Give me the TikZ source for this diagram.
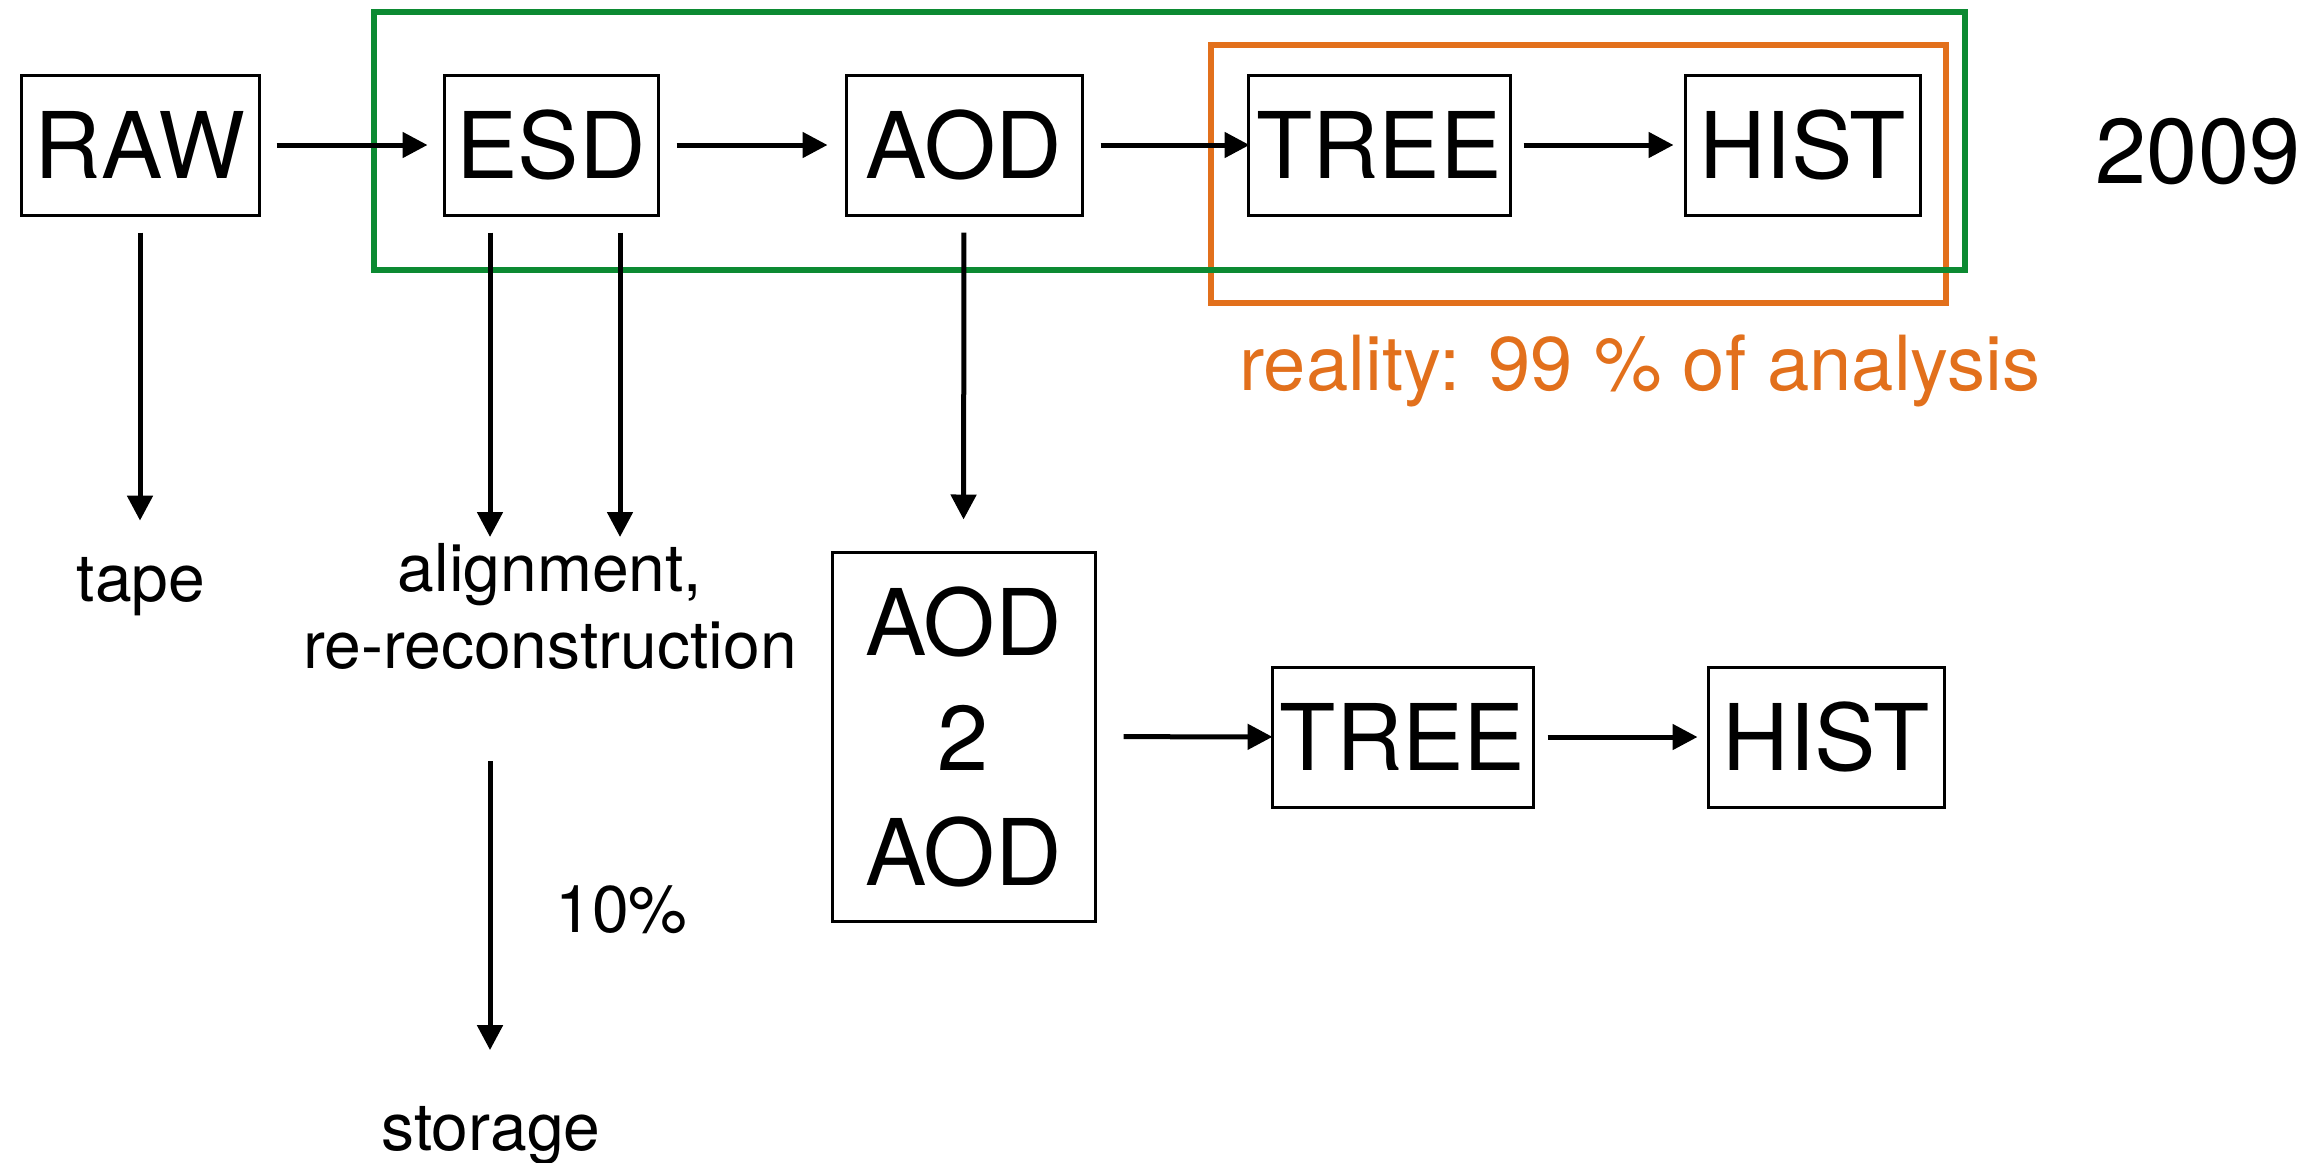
\documentclass[tikz,border=0pt]{standalone}
\usepackage{fontspec}
\setmainfont{TeX Gyre Heros}
\usetikzlibrary{arrows.meta}
\definecolor{grn}{RGB}{12,138,50}
\definecolor{org}{RGB}{226,112,28}
\begin{document}
\begin{tikzpicture}[x=0.5pt,y=-0.5pt,
  box/.style={draw,line width=1.5pt,inner sep=0pt,minimum height=70pt,font=\fontsize{46}{55}\selectfont},
  lbl/.style={inner sep=0pt,text height=24.75pt,text depth=8.25pt,font=\fontsize{33}{38.5}\selectfont},
  arr/.style={line width=2.5pt,-{Triangle[length=12.5pt,width=12.5pt]}},
  frame/.style={line width=2.8pt}]
\useasboundingbox (0,0) rectangle (2310,1162);
% frames
\draw[org,frame] (1211,45) rectangle (1946,303);
\draw[grn,frame] (374,12) rectangle (1965,270);
% top row
\node[box,minimum width=119pt] (raw) at (140,145) {RAW};
\node[box,minimum width=107pt] (esd) at (551,145) {ESD};
\node[box,minimum width=118pt] (aod) at (964,145) {AOD};
\node[box,minimum width=131pt] (tree) at (1379,145) {TREE};
\node[box,minimum width=117.5pt] (hist) at (1802.5,145) {HIST};
\node[font=\fontsize{46}{55}\selectfont,anchor=base,inner sep=0pt] (year) at (2198,183) {2009};
\node[org,font=\fontsize{38}{45}\selectfont,anchor=base,inner sep=0pt] (real) at (1640,390) {reality: 99 \% of analysis};
% labels
\node[lbl,anchor=base] (tape) at (141,601) {tape};
\node[inner sep=0pt,anchor=north,align=center,font=\fontsize{33}{38.5}\selectfont] (align) at (550,542.5) {alignment,\\re-reconstruction};
\node[lbl,anchor=base] (storage) at (491,1150) {storage};
\node[lbl,anchor=base west] (pct) at (555,932) {10\%};
% bottom row
\node[box,minimum width=131.5pt,minimum height=184.5pt,align=center,font=\fontsize{46}{57.5}\selectfont] (aod2) at (963.5,736.5) {AOD\\2\\AOD};
\node[box,minimum width=130.5pt] (tree2) at (1402.5,737) {TREE};
\node[box,minimum width=118pt] (hist2) at (1826,737) {HIST};
% horizontal arrows
\draw[arr,shorten <=8pt,shorten >=7.5pt] (raw) -- (esd);
\draw[arr,shorten <=8.5pt,shorten >=8.5pt] (esd) -- (aod);
\draw[arr,shorten <=8.5pt,shorten >=-1.5pt] (aod) -- (tree);
\draw[arr,shorten <=6pt,shorten >=5pt] (tree) -- (hist);
\draw[arr,shorten <=13.5pt,shorten >=-1pt] (aod2) -- (tree2);
\draw[arr,shorten <=6.5pt,shorten >=4.5pt] (tree2) -- (hist2);
% vertical arrows
\coordinate (esdL) at ([xshift=-30.5pt]esd.south);
\coordinate (esdR) at ([xshift=34.5pt]esd.south);
\draw[arr,shorten <=8pt,shorten >=15.25pt] (raw.south) -- (raw.south |- tape.north);
\draw[arr,shorten <=8pt,shorten >=2.75pt] (esdL) -- (esdL |- align.north);
\draw[arr,shorten <=8pt,shorten >=2.75pt] (esdR) -- (esdR |- align.north);
\draw[arr,shorten <=8pt,shorten >=15.5pt] (aod.south) -- (aod2.north);
\draw[arr,shorten <=46pt,shorten >=25pt] (esdL |- align.south) -- (esdL |- storage.north);
\end{tikzpicture}
\end{document}
